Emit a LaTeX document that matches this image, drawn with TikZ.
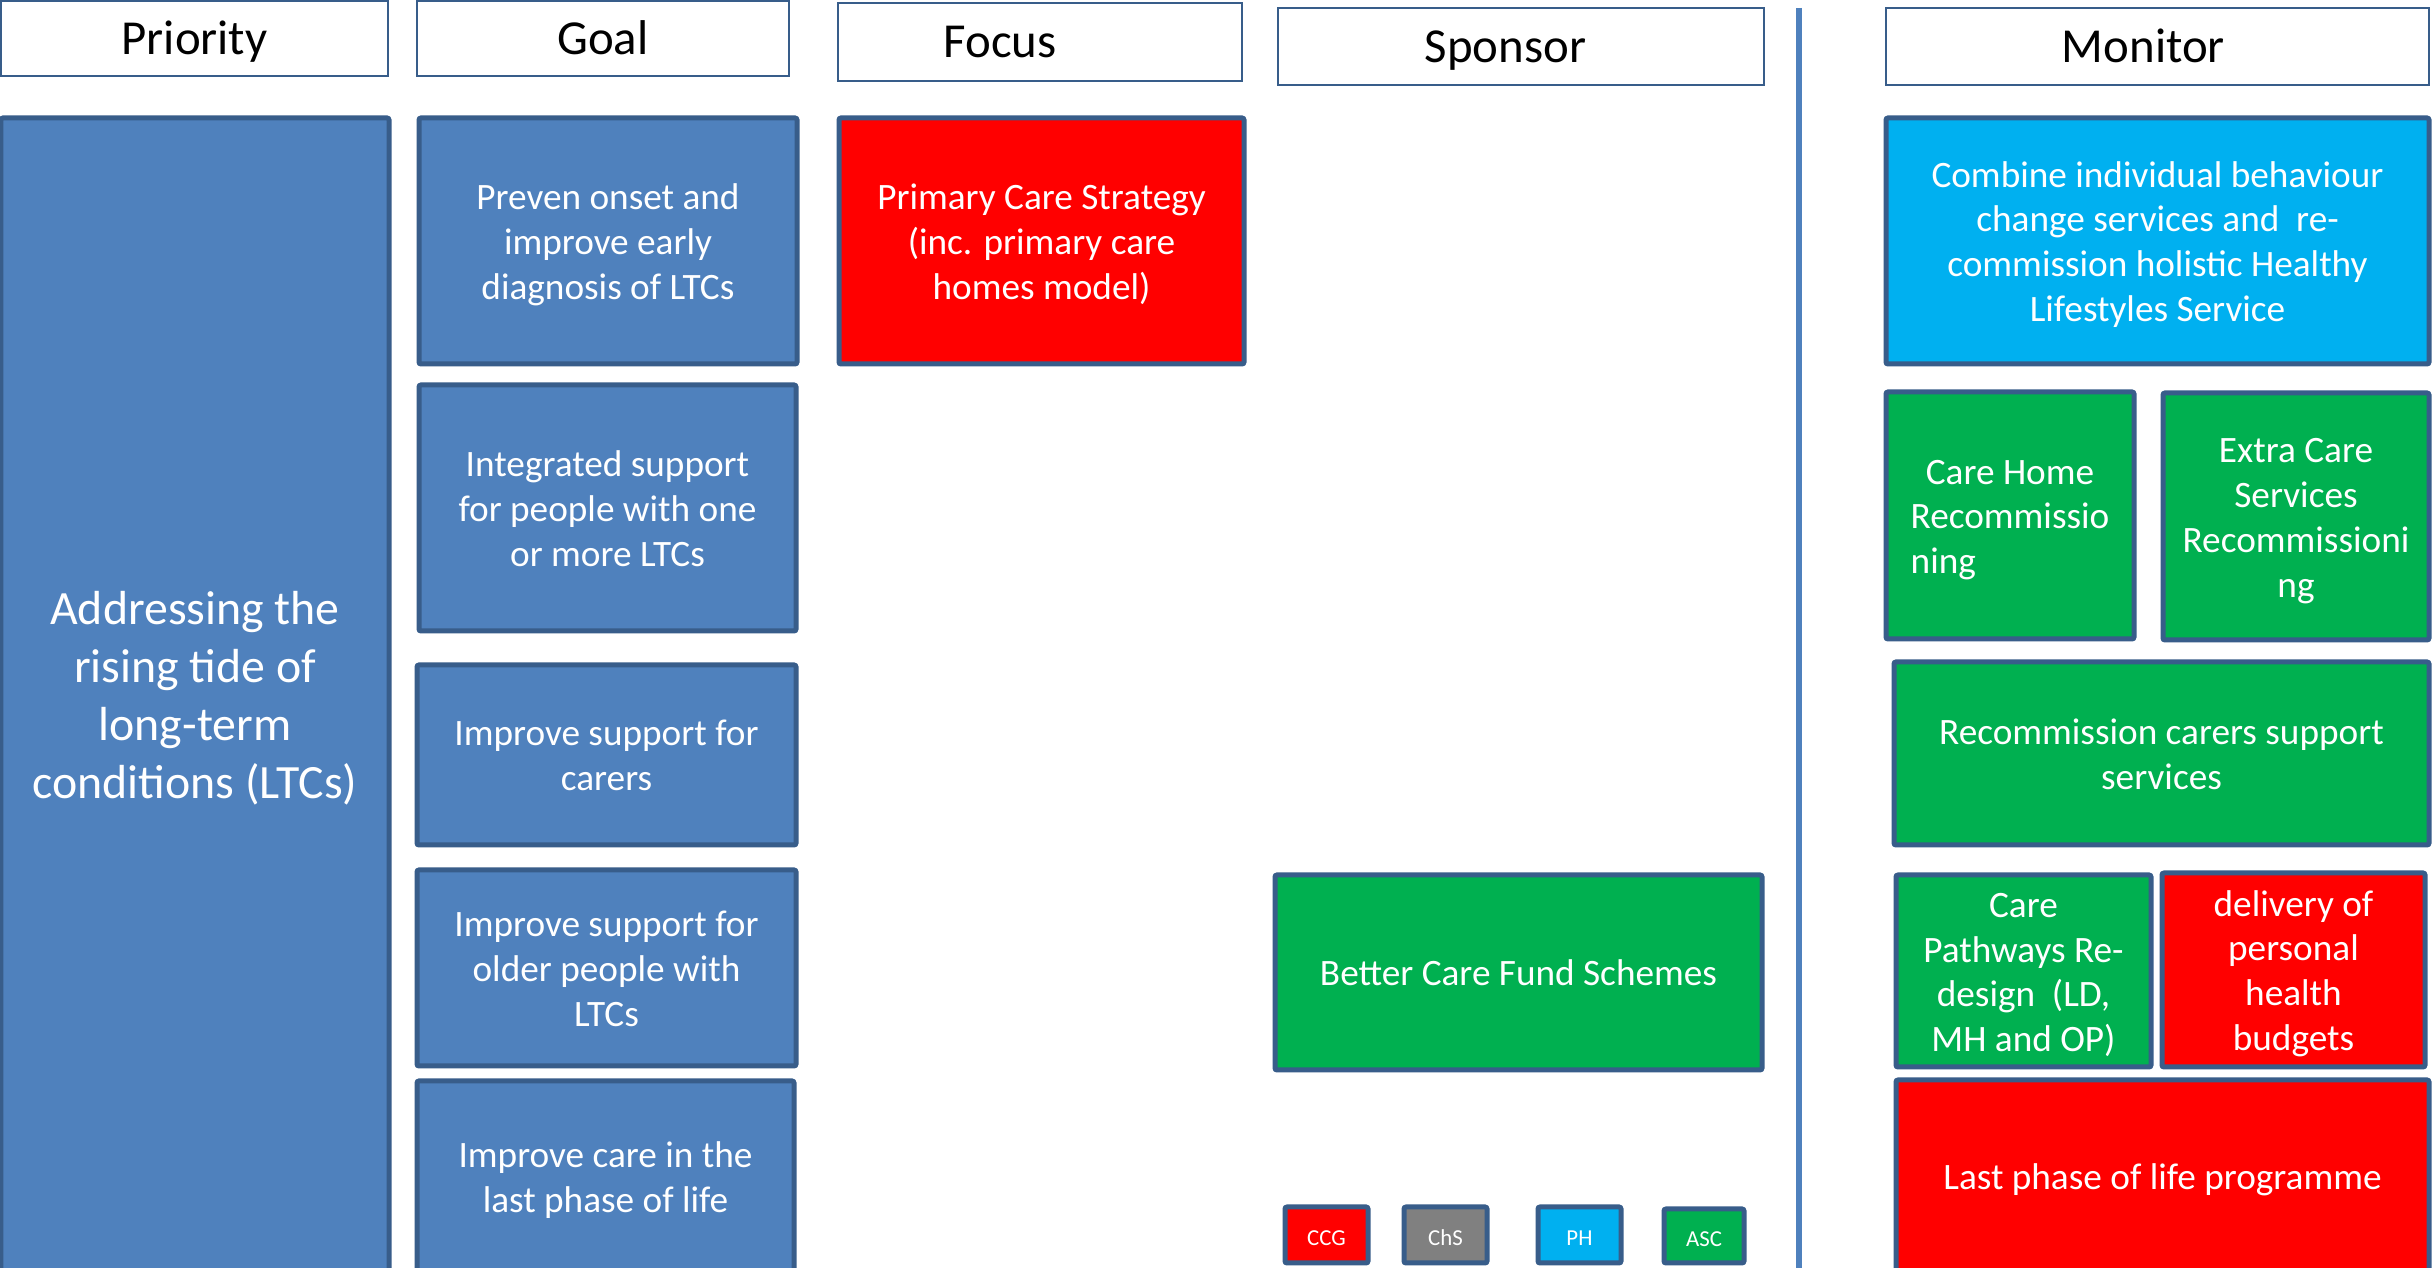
\documentclass[tikz,border=0pt]{standalone}
\usepackage{fontspec}
\setmainfont{Carlito}
\definecolor{outline}{HTML}{385D8A}
\definecolor{cblue}{HTML}{4F81BD}
\definecolor{cred}{HTML}{FF0000}
\definecolor{cgreen}{HTML}{00B050}
\definecolor{ccyan}{HTML}{00B0F0}
\definecolor{cgrey}{HTML}{808080}
\definecolor{divider}{HTML}{4F81BD}
% box spanning (x1,y1)-(x2,y2), y measured downwards from the top edge;
% its text is set with struts so that every block is centred on the same metrics
\newcommand\cellbox[8]{%
  \node[#6, minimum width={(#4-#2)*1cm}, minimum height={(#5-#3)*1cm}]
    (#1) at ({(#2+#4)/2},{-(#3+#5)/2}) {};
  \node[#7, yshift=-0.045cm] (#1-text) at (#1.center) {\strut #8\strut};}
\tikzset{
  headbox/.style={draw=outline, line width=0.02cm, fill=white, inner sep=0pt},
  cellbox/.style={draw=outline, line width=0.05cm, rounded corners=0.02cm, inner sep=0pt},
  headtext/.style={inner sep=0pt, text=black, font=\fontsize{13.9}{16}\selectfont},
  celltext/.style={inner sep=0pt, text=white, align=center,
    font=\fontsize{10.6}{12.8}\selectfont},
  bigtext/.style={celltext, font=\fontsize{13.6}{16.5}\selectfont},
  keytext/.style={celltext, font=\fontsize{6.5}{8}\selectfont},
  blue/.style={cellbox, fill=cblue}, red/.style={cellbox, fill=cred},
  green/.style={cellbox, fill=cgreen}, cyan/.style={cellbox, fill=ccyan},
  grey/.style={cellbox, fill=cgrey},
}
\begin{document}
\begin{tikzpicture}
\path[use as bounding box, clip] (0,0) rectangle (24.32,-12.68);
\fill[white] (0,0) rectangle (24.32,-12.68);

% column headers
\cellbox{hPri}{0.01}{0.01}{3.88}{0.76}{headbox}{headtext}{Priority}
\cellbox{hGoal}{4.17}{0.01}{7.89}{0.76}{headbox}{headtext}{Goal}
\cellbox{hFocus}{8.38}{0.03}{12.42}{0.81}{headbox}{headtext}{Focus\kern0.80cm}
\cellbox{hSpon}{12.78}{0.08}{17.64}{0.85}{headbox}{headtext}{Sponsor\kern0.31cm}
\cellbox{hMon}{18.86}{0.08}{24.29}{0.85}{headbox}{headtext}{Monitor\kern0.28cm}

% divider between sponsor and monitor columns
\coordinate (divTop) at (17.99,-0.08);
\coordinate (divBot) at (17.99,-12.75);
\draw[divider, line width=0.06cm] (divTop) -- (divBot);

% priority
\cellbox{pri}{0.01}{1.18}{3.89}{12.72}{blue}{bigtext}{Addressing the\\rising tide of\\long-term\\conditions (LTCs)}

% goals
\cellbox{g1}{4.19}{1.18}{7.97}{3.64}{blue}{celltext}{Preven onset and\\improve early\\diagnosis of LTCs}
\cellbox{g2}{4.19}{3.85}{7.96}{6.31}{blue}{celltext}{Integrated support\\for people with one\\or more LTCs}
\cellbox{g3}{4.17}{6.65}{7.96}{8.45}{blue}{celltext}{Improve support for\\carers}
\cellbox{g4}{4.17}{8.70}{7.96}{10.66}{blue}{celltext}{Improve support for\\older people with\\LTCs}
\cellbox{g5}{4.17}{10.81}{7.94}{12.72}{blue}{celltext}{Improve care in the\\last phase of life}

% focus
\cellbox{focus}{8.39}{1.18}{12.44}{3.64}{red}{celltext}{Primary Care Strategy\\(inc. primary care\\homes model)}

% sponsor
\cellbox{bcf}{12.75}{8.75}{17.62}{10.70}{green}{celltext}{Better Care Fund Schemes}

% key
\cellbox{kCCG}{12.85}{12.07}{13.68}{12.63}{red}{keytext}{CCG}
\cellbox{kChS}{14.04}{12.07}{14.87}{12.63}{grey}{keytext}{ChS}
\cellbox{kPH}{15.38}{12.07}{16.21}{12.63}{cyan}{keytext}{PH}
\cellbox{kASC}{16.64}{12.09}{17.44}{12.63}{green}{keytext}{ASC}

% monitor
\cellbox{mon1}{18.86}{1.18}{24.29}{3.64}{cyan}{celltext}{Combine individual behaviour\\change services and\ \ re-\\commission holistic Healthy\\Lifestyles Service}
\cellbox{careh}{18.86}{3.92}{21.34}{6.39}{green}{celltext}{Care Home\\Recommissio\\\rlap{ning}\phantom{Recommissio}}
\cellbox{extra}{21.63}{3.93}{24.29}{6.40}{green}{celltext}{Extra Care\\Services\\Recommissioni\\ng}
\cellbox{carers}{18.94}{6.62}{24.29}{8.45}{green}{celltext}{Recommission carers support\\services}
\cellbox{paths}{18.96}{8.75}{21.51}{10.67}{green}{celltext}{Care\\Pathways Re-\\design\ \ (LD,\\MH and OP)}
\cellbox{deliv}{21.62}{8.73}{24.25}{10.67}{red}{celltext}{delivery of\\personal\\health\\budgets}
\cellbox{last}{18.96}{10.80}{24.29}{12.72}{red}{celltext}{Last phase of life programme}
\end{tikzpicture}
\end{document}
